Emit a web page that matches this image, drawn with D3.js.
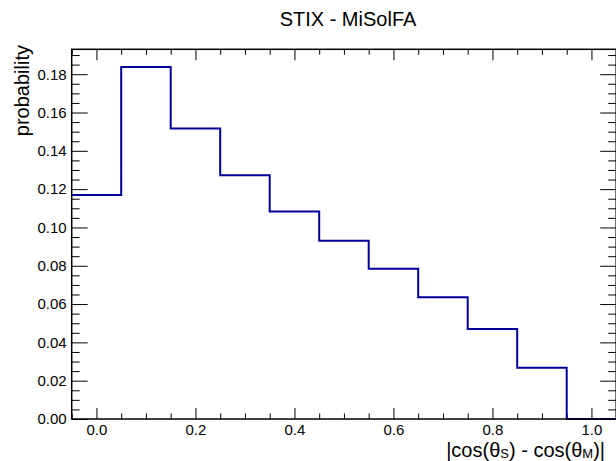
<!DOCTYPE html>
<html>
<head>
<meta charset="utf-8">
<script src="https://cdn.jsdelivr.net/npm/d3@7"></script>
<style>
  html, body { margin: 0; padding: 0; background: #fff; }
  svg { display: block; }
  text { font-family: "Liberation Sans", Arial, Helvetica, sans-serif; }
</style>
</head>
<body>
<div id="chart"></div>
<script>
// ---- data ----
const binCenters = [0.0, 0.1, 0.2, 0.3, 0.4, 0.5, 0.6, 0.7, 0.8, 0.9, 1.0];
const binWidth = 0.1;
const probability = [0.117, 0.1838, 0.1516, 0.1273, 0.1083, 0.0930, 0.0785, 0.0635, 0.047, 0.0268, 0.0];
const xTickLabels = [0.0, 0.2, 0.4, 0.6, 0.8, 1.0];
const yTickLabels = [0.00, 0.02, 0.04, 0.06, 0.08, 0.10, 0.12, 0.14, 0.16, 0.18];
const xDomain = [-0.05, 1.05];
const yDomain = [0, 0.193];
const titleText = "STIX - MiSolFA";
const yTitle = "probability";

// ---- layout ----
const W = 616, H = 461;
const pLeft = 71.7, pRight = 616.2, pTop = 49.3, pBottom = 419;

const svg = d3.select("#chart").append("svg").attr("width", W).attr("height", H);

const x = d3.scaleLinear().domain(xDomain).range([pLeft, pRight]);
const y = d3.scaleLinear().domain(yDomain).range([pBottom, pTop]);

// minor tick values
const xMinor = d3.range(-0.05, 1.0501, 0.05).map(v => +v.toFixed(2)).filter(v => !xTickLabels.some(t => Math.abs(t - v) < 1e-6));
const yMinor = d3.range(0, 0.1931, 0.005).map(v => +v.toFixed(3)).filter(v => !yTickLabels.some(t => Math.abs(t - v) < 1e-6));

const fmt = d3.format(".1f");
const fmtY = d3.format(".2f");

function styleAxis(g) {
  g.selectAll("path.domain").remove();
  g.selectAll("line").attr("stroke", "#000").attr("stroke-width", 1);
  g.selectAll("text").attr("font-size", 15).attr("fill", "#000")
    .attr("font-family", "'Liberation Sans', Arial, sans-serif");
}

// bottom axis
svg.append("g").attr("transform", `translate(0,${pBottom})`)
  .call(d3.axisBottom(x).tickValues(xTickLabels).tickFormat(fmt).tickSizeInner(-11).tickSizeOuter(0).tickPadding(5.5))
  .call(styleAxis);
svg.append("g").attr("transform", `translate(0,${pBottom})`)
  .call(d3.axisBottom(x).tickValues(xMinor).tickFormat("").tickSizeInner(-5.5).tickSizeOuter(0))
  .call(styleAxis);
// top axis
svg.append("g").attr("transform", `translate(0,${pTop})`)
  .call(d3.axisTop(x).tickValues(xTickLabels).tickFormat("").tickSizeInner(-11).tickSizeOuter(0))
  .call(styleAxis);
svg.append("g").attr("transform", `translate(0,${pTop})`)
  .call(d3.axisTop(x).tickValues(xMinor).tickFormat("").tickSizeInner(-5.5).tickSizeOuter(0))
  .call(styleAxis);
// left axis
svg.append("g").attr("transform", `translate(${pLeft},0)`)
  .call(d3.axisLeft(y).tickValues(yTickLabels).tickFormat(fmtY).tickSizeInner(-16).tickSizeOuter(0).tickPadding(5))
  .call(styleAxis);
svg.append("g").attr("transform", `translate(${pLeft},0)`)
  .call(d3.axisLeft(y).tickValues(yMinor).tickFormat("").tickSizeInner(-8).tickSizeOuter(0))
  .call(styleAxis);
// right axis
svg.append("g").attr("transform", `translate(${pRight},0)`)
  .call(d3.axisRight(y).tickValues(yTickLabels).tickFormat("").tickSizeInner(-16).tickSizeOuter(0))
  .call(styleAxis);
svg.append("g").attr("transform", `translate(${pRight},0)`)
  .call(d3.axisRight(y).tickValues(yMinor).tickFormat("").tickSizeInner(-8).tickSizeOuter(0))
  .call(styleAxis);

// histogram outline
const pts = binCenters.map((c, i) => [c - binWidth / 2, probability[i]]);
pts.push([binCenters[binCenters.length - 1] + binWidth / 2, probability[probability.length - 1]]);
svg.append("path")
  .attr("d", d3.line().x(d => x(d[0])).y(d => y(d[1])).curve(d3.curveStepAfter)(pts))
  .attr("fill", "none").attr("stroke", "#000099").attr("stroke-width", 2);

// frame
svg.append("rect").attr("x", pLeft).attr("y", pTop)
  .attr("width", pRight - pLeft).attr("height", pBottom - pTop)
  .attr("fill", "none").attr("stroke", "#000").attr("stroke-width", 1.5);

// title
svg.append("text").attr("x", 348).attr("y", 26).attr("text-anchor", "middle")
  .attr("font-size", 20).text(titleText);

// y title
svg.append("text").attr("transform", "translate(29,45) rotate(-90)")
  .attr("text-anchor", "end").attr("font-size", 20).text(yTitle);

// x title
const xt = svg.append("text").attr("x", 605).attr("y", 456.5).attr("text-anchor", "end").attr("font-size", 20);
xt.append("tspan").text("|cos(θ");
xt.append("tspan").attr("font-size", 13).attr("dy", 1.5).text("S");
xt.append("tspan").attr("dy", -1.5).text(") - cos(θ");
xt.append("tspan").attr("font-size", 13).attr("dy", 1.5).text("M");
xt.append("tspan").attr("dy", -1.5).text(")|");
</script>
</body>
</html>
